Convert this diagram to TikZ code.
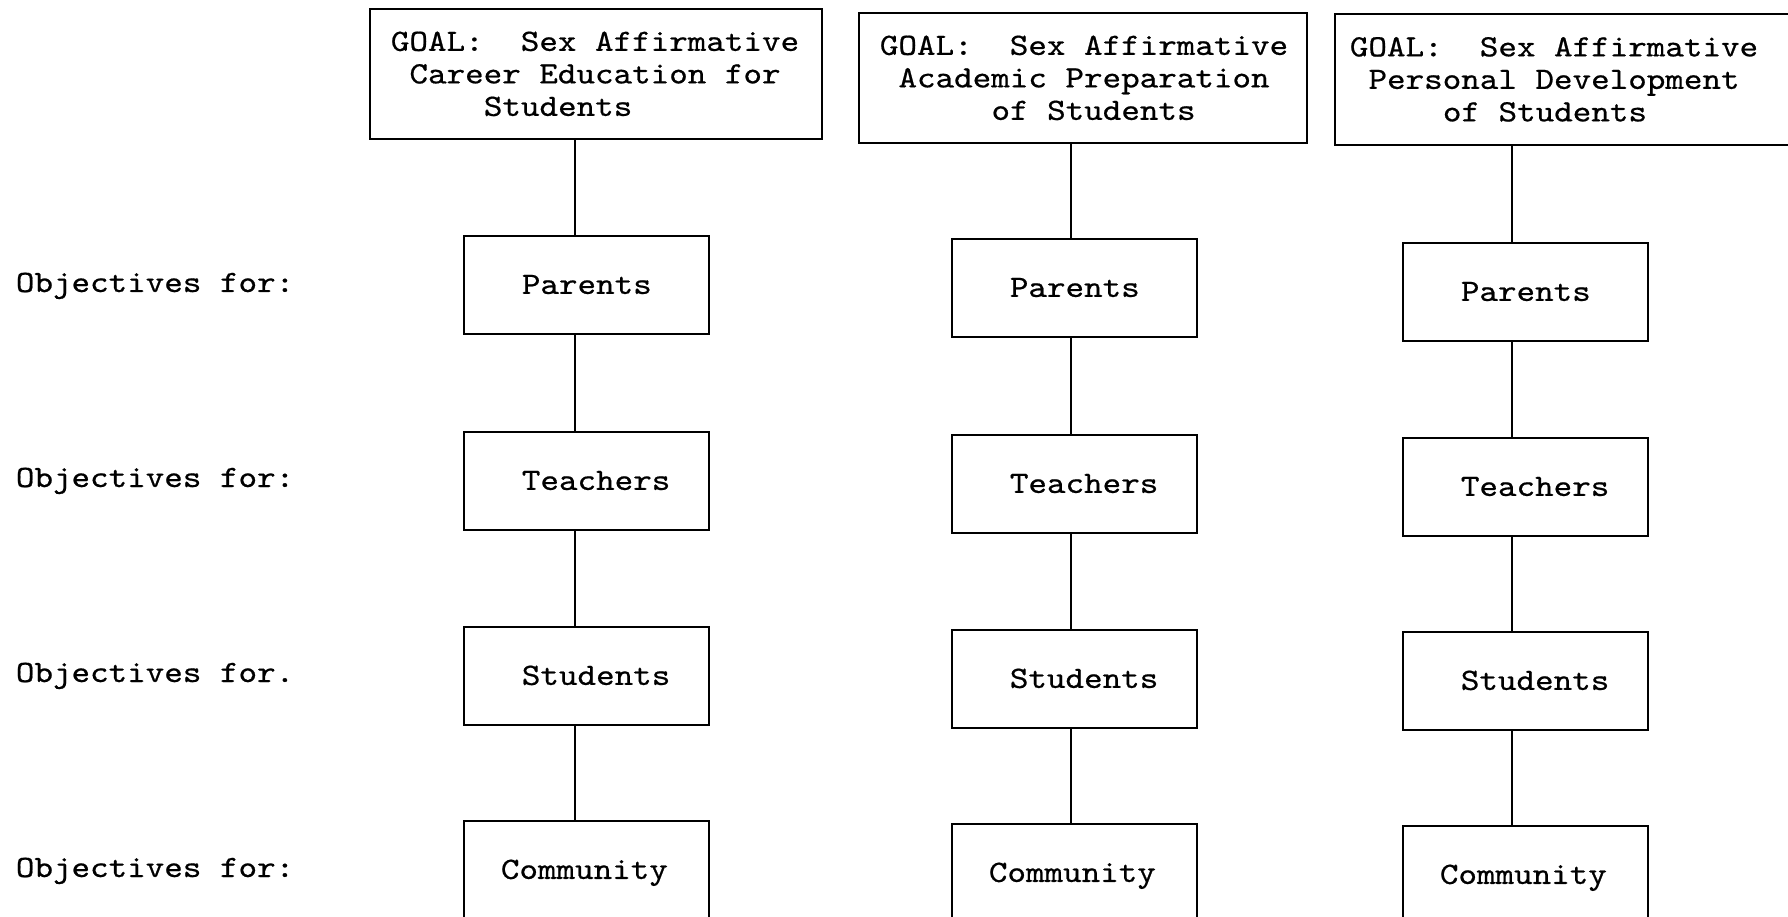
\documentclass[tikz,border=0pt]{standalone}
\usepackage{fontspec}
\newfontfamily\typew{lmmono10-regular.otf}[FakeStretch=1.14,FakeBold=0.6]
\newlength\chw
\setlength\chw{18.6pt}
\newcommand{\ind}[1]{\hspace*{#1\chw}}
\newcommand{\boxtxt}[2]{\makebox[245pt][l]{\hspace*{#1}#2}}
\newcommand{\goaltxt}[5]{\parbox{#1}{\raggedright\hspace*{#2}#3\\\hspace*{#2}#4\\\hspace*{#2}#5}}
\begin{document}
\begin{tikzpicture}[x=1pt,y=-1pt,line width=1.8pt,
  font=\typew\fontsize{31}{32.5}\selectfont\frenchspacing,
  goalbox/.style={draw,rectangle,anchor=north west,inner sep=0pt,minimum height=130pt},
  smallbox/.style={draw,rectangle,anchor=north west,inner sep=0pt,minimum height=98pt,text height=18pt,text depth=0pt},
  lbl/.style={anchor=base west,inner sep=0pt}]
\useasboundingbox (0,0) rectangle (1788,917);
\clip (0,0) rectangle (1788,917);
% goal boxes
\node[goalbox] (g1) at (369,8) {\goaltxt{452pt}{21pt}{GOAL:\ind{2}Sex Affirmative}{\ind{1}Career Education for}{\ind{5}Students}};
\node[goalbox] (g2) at (858,12) {\goaltxt{448pt}{21pt}{GOAL:\ind{2}Sex Affirmative}{\ind{1}Academic Preparation}{\ind{6}of Students}};
\node[goalbox,minimum height=131pt] (g3) at (1334,13) {\goaltxt{470pt}{15pt}{GOAL:\ind{2}Sex Affirmative}{\ind{1}Personal Development}{\ind{5}of Students}};
% column 1
\node[smallbox] (p1) at (463,235) {\boxtxt{58pt}{Parents}};
\node[smallbox] (t1) at (463,431) {\boxtxt{58pt}{Teachers}};
\node[smallbox] (s1) at (463,626) {\boxtxt{58pt}{Students}};
\node[smallbox] (c1) at (463,820) {\boxtxt{37pt}{Community}};
% column 2
\node[smallbox] (p2) at (951,238) {\boxtxt{58pt}{Parents}};
\node[smallbox] (t2) at (951,434) {\boxtxt{58pt}{Teachers}};
\node[smallbox] (s2) at (951,629) {\boxtxt{58pt}{Students}};
\node[smallbox] (c2) at (951,823) {\boxtxt{37pt}{Community}};
% column 3
\node[smallbox] (p3) at (1402,242) {\boxtxt{58pt}{Parents}};
\node[smallbox] (t3) at (1402,437) {\boxtxt{58pt}{Teachers}};
\node[smallbox] (s3) at (1402,631) {\boxtxt{58pt}{Students}};
\node[smallbox] (c3) at (1402,825) {\boxtxt{37pt}{Community}};
% connector columns
\coordinate (k1) at (575,0);
\coordinate (k2) at (1071,0);
\coordinate (k3) at (1512,0);
\foreach \c in {1,2,3}{
  \draw (g\c.south -| k\c) -- (p\c.north -| k\c);
  \draw (p\c.south -| k\c) -- (t\c.north -| k\c);
  \draw (t\c.south -| k\c) -- (s\c.north -| k\c);
  \draw (s\c.south -| k\c) -- (c\c.north -| k\c);
}
% row labels
\node[lbl] (o1) at (15,292) {Objectives for:};
\node[lbl] (o2) at (15,487) {Objectives for:};
\node[lbl] (o3) at (15,682) {Objectives for.};
\node[lbl] (o4) at (15,877) {Objectives for:};
\end{tikzpicture}
\end{document}
